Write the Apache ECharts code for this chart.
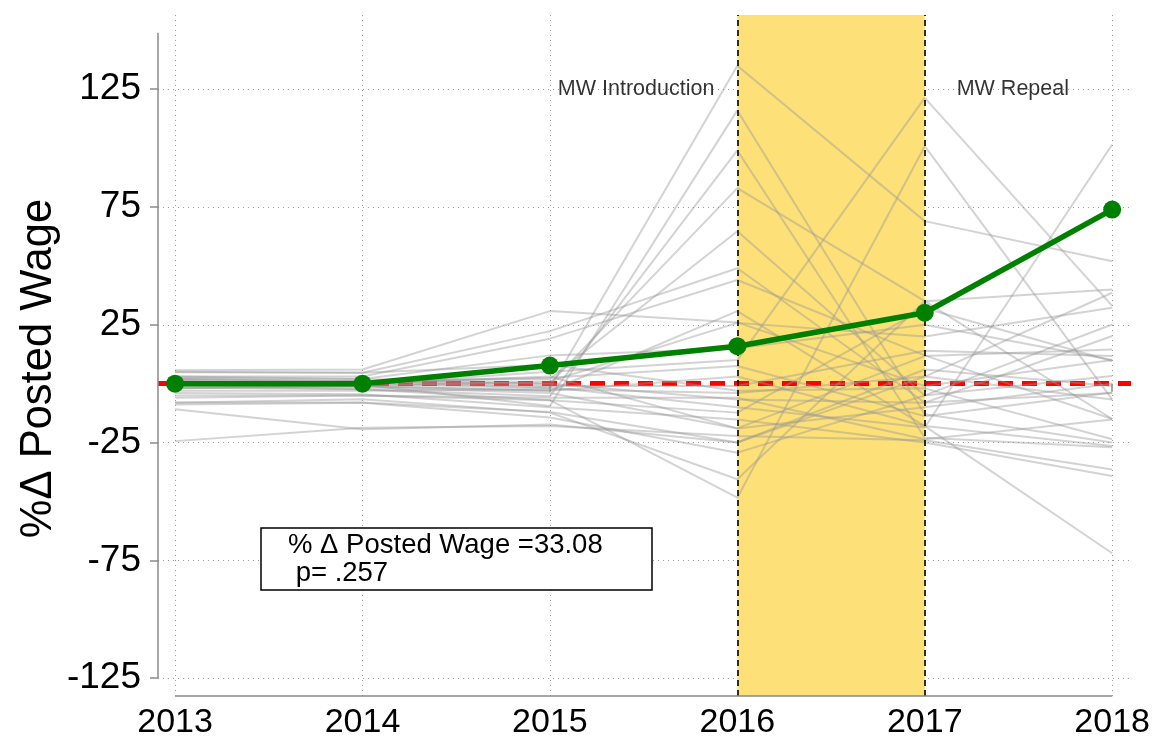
<!DOCTYPE html>
<html>
<head>
<meta charset="utf-8">
<script src="https://cdn.jsdelivr.net/npm/echarts@6/dist/echarts.min.js"></script>
<style>
  html, body { margin: 0; padding: 0; background: #fff; }
  #chart { width: 1153px; height: 740px; }
</style>
</head>
<body>
<div id="chart"></div>
<script>
// Years on the horizontal axis and tick values on the vertical axis
const years = [2013, 2014, 2015, 2016, 2017, 2018];
const yTicks = [-125, -75, -25, 25, 75, 125];

// Treated unit: % change in posted wage
const treatedWage = [0, 0, 7.7, 15.9, 30.1, 73.9];

// Donor units (one row per unit, values for 2013..2018)
const donorPaths = [
  [  1.0,   0.0,  -2.0, 135.0,  69.0,  52.0],
  [  0.5,  -0.5,  -9.5, 116.0, -13.0, -25.0],
  [ -1.0,  -2.4,  -5.3,  99.0, -23.0, -27.0],
  [  2.0,   1.0,   0.0,  83.0,  35.0, -15.0],
  [  5.7,   6.0,  30.8,  26.0,  -1.0,  10.0],
  [  4.8,   4.6,  22.3,  49.0,  -8.0,  -4.0],
  [  3.0,   3.0,  19.1,  44.0,  12.0, -15.0],
  [  0.0,   1.0,   2.0,  64.7,  -5.0,   3.2],
  [ -2.0,  -1.0,  -3.0,  30.8, -18.0, -72.0],
  [  0.0,  -0.3,   5.0,  10.0, 121.3,  33.0],
  [ -5.0,  -5.0,  -7.0, -48.4, 100.8,  -6.7],
  [ -8.1,  -6.6, -12.3, -40.6,  35.0,  40.0],
  [ -8.8,  -8.1, -14.4, -29.3,  -5.0,  25.1],
  [-10.9, -19.4, -17.3, -25.0,   3.0,  38.6],
  [-24.4, -18.7, -18.0, -22.2, -24.0, -36.4],
  [  0.5,   1.0,  -1.0,  -1.0,  14.0,  11.7],
  [  3.0,   2.0,   0.0,  -6.7,  -8.1,  20.2],
  [ -1.6,  -2.4,  -7.0, -12.3,  32.0,   9.6],
  [ -4.0,  -4.5, -10.0, -15.2, -25.0, -39.2],
  [  2.0,   1.0,   2.5,   7.5, -13.8,  -3.8],
  [ -2.0,  -1.0,  -3.0,   3.0, -18.0, -26.5],
  [  1.0,   0.0,   3.0, -19.0,  11.7,  14.5],
  [ -6.0,  -5.0,  -6.0,  -6.0, -23.6, -15.2],
  [ -8.0,  -8.0, -12.0, -25.0,   6.0,  -1.0],
  [  5.0,   4.6,   8.0,  -3.0,  -2.0, -23.6],
  [  0.0,  -1.0,   1.0,  25.8,  20.0,  32.2],
  [  1.5,   0.5,  -1.5, -10.0, -18.6, 101.5],
  [ -0.5,  -1.5,  -4.0, -19.0, -10.0,   0.0],
  [  2.5,   2.0,  12.0,  15.0,  25.0,  10.0],
  [ -3.0,  -3.0,  -2.4,  -4.0,   3.0,  -6.7]
];

// Policy window (minimum wage introduced, then repealed)
const policyYears = [2016, 2017];
const eventLabels = ['MW Introduction', 'MW Repeal'];
const eventLabelX = [2015.46, 2017.47];
const eventLabelY = 125;

// Estimate shown in the note box
const effectEstimate = '33.08';
const effectPValue = '.257';

// Plot region extents and the drawn extent of the vertical axis line
const xRange = [2012.909, 2018.101];
const yRange = [-132.6, 156.5];
const yAxisLineTop = 149;

const FONT = "'Liberation Sans', Arial, Helvetica, sans-serif";
const axisGray = '#8a8a8a';
const gridStyle = { color: '#9a9a9a', width: 1, type: [1, 4] };

const pairs = vals => years.map((yr, i) => [yr, vals[i]]);

const chart = echarts.init(document.getElementById('chart'), null, { renderer: 'canvas' });

const donorSeries = donorPaths.map((vals, i) => ({
  name: 'donor' + (i + 1),
  type: 'line',
  data: pairs(vals),
  showSymbol: false,
  symbol: 'none',
  silent: true,
  z: 4,
  lineStyle: { color: 'rgba(150,150,150,0.42)', width: 2 },
  emphasis: { disabled: true }
}));

const option = {
  animation: false,
  backgroundColor: '#fff',
  textStyle: { fontFamily: FONT },
  grid: { left: 158, right: 21, top: 15, bottom: 43, containLabel: false },
  xAxis: {
    type: 'value',
    min: xRange[0],
    max: xRange[1],
    axisLine: { show: false },
    splitLine: { show: false },
    axisTick: {
      show: true, customValues: years, length: 8,
      lineStyle: { color: axisGray, width: 1.5 }
    },
    axisLabel: {
      customValues: years, fontSize: 34, color: '#000', margin: 10,
      fontFamily: FONT, formatter: v => String(v)
    }
  },
  yAxis: {
    type: 'value',
    min: yRange[0],
    max: yRange[1],
    axisLine: { show: false },
    splitLine: { show: false },
    axisTick: {
      show: true, customValues: yTicks, length: 8,
      lineStyle: { color: axisGray, width: 1.5 }
    },
    axisLabel: {
      customValues: yTicks, fontSize: 37, color: '#000', margin: 17,
      fontFamily: FONT, formatter: v => String(v)
    },
    name: '%\u0394 Posted Wage',
    nameLocation: 'middle',
    nameRotate: 90,
    nameGap: 97,
    nameMoveOverlap: false,
    nameTextStyle: { fontSize: 43.5, color: '#000', fontFamily: FONT, padding: [0, 26, 0, 0] }
  },
  graphic: [
    {
      type: 'rect',
      shape: { x: 261, y: 528, width: 391, height: 62 },
      style: { fill: '#fff', stroke: '#000', lineWidth: 1.5 },
      z: 100
    },
    {
      type: 'text',
      x: 288, y: 531,
      style: {
        text: '% \u0394 Posted Wage =' + effectEstimate + '\n p= ' + effectPValue,
        fontFamily: FONT, fontSize: 27.5, lineHeight: 28, fill: '#000'
      },
      z: 101
    }
  ],
  series: [
    // background: dotted grid and the shaded policy window
    {
      name: 'background',
      type: 'line',
      data: [],
      silent: true,
      markLine: {
        silent: true, symbol: ['none', 'none'], z: 1,
        label: { show: false },
        lineStyle: gridStyle,
        emphasis: { disabled: true },
        data: yTicks.map(v => ({ yAxis: v })).concat(years.map(v => ({ xAxis: v })))
      },
      markArea: {
        silent: true, z: 2,
        itemStyle: { color: '#fde077' },
        label: { show: false },
        emphasis: { disabled: true },
        data: [[{ xAxis: policyYears[0] }, { xAxis: policyYears[1] }]]
      }
    },
    // zero reference
    {
      name: 'zero',
      type: 'line',
      data: [],
      silent: true,
      markLine: {
        silent: true, symbol: ['none', 'none'], z: 3,
        label: { show: false },
        emphasis: { disabled: true },
        lineStyle: { color: '#ff0000', width: 5, type: [15, 9] },
        data: [{ yAxis: 0 }]
      }
    },
    ...donorSeries,
    // policy boundaries and axis lines
    {
      name: 'frame',
      type: 'line',
      data: [],
      silent: true,
      markLine: {
        silent: true, symbol: ['none', 'none'], z: 5,
        label: { show: false },
        emphasis: { disabled: true },
        data: [
          { xAxis: policyYears[0], lineStyle: { color: '#000', width: 1.6, type: [6, 4] } },
          { xAxis: policyYears[1], lineStyle: { color: '#000', width: 1.6, type: [6, 4] } },
          [
            { coord: [xRange[0], yTicks[0]], lineStyle: { color: axisGray, width: 1.5, type: 'solid' } },
            { coord: [xRange[0], yAxisLineTop] }
          ],
          [
            { coord: [years[0], yRange[0]], lineStyle: { color: axisGray, width: 1.5, type: 'solid' } },
            { coord: [years[years.length - 1], yRange[0]] }
          ]
        ]
      }
    },
    // event captions
    {
      name: 'events',
      type: 'scatter',
      silent: true,
      z: 7,
      symbolSize: 1,
      itemStyle: { color: 'rgba(0,0,0,0)' },
      data: eventLabels.map((t, i) => ({ value: [eventLabelX[i], eventLabelY], name: t })),
      label: {
        show: true, position: 'inside', formatter: p => p.name,
        fontSize: 21.5, color: '#000', fontFamily: FONT
      }
    },
    // treated unit
    {
      name: 'treated',
      type: 'line',
      data: pairs(treatedWage),
      z: 6,
      symbol: 'circle',
      symbolSize: 18,
      showSymbol: true,
      silent: true,
      lineStyle: { color: '#008000', width: 5.5 },
      itemStyle: { color: '#008000' }
    }
  ]
};

chart.setOption(option);
</script>
</body>
</html>
